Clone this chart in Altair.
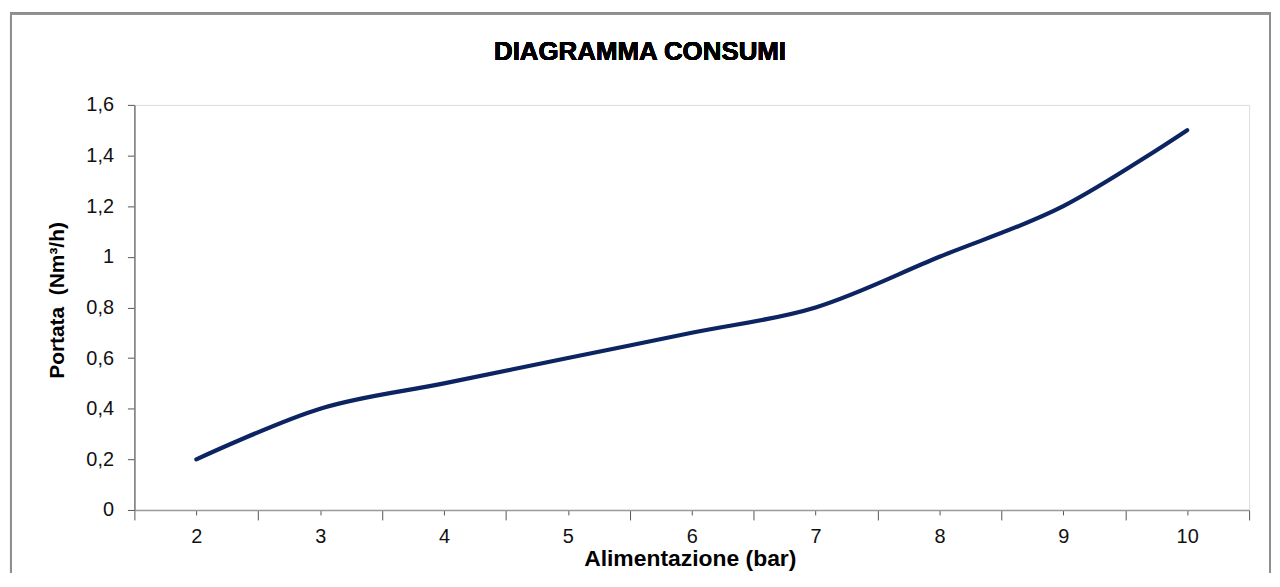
import altair as alt
import pandas as pd

# Data
pressure_bar = [2, 3, 4, 5, 6, 7, 8, 9, 10]
flow_nm3h = [0.2, 0.4, 0.5, 0.6, 0.7, 0.8, 1.0, 1.2, 1.5]

x_tick_values = [1.5, 2, 2.5, 3, 3.5, 4, 4.5, 5, 5.5, 6, 6.5, 7, 7.5, 8, 8.5, 9, 9.5, 10, 10.5]
y_tick_values = [0, 0.2, 0.4, 0.6, 0.8, 1.0, 1.2, 1.4, 1.6]

df = pd.DataFrame({"Alimentazione": pressure_bar, "Portata": flow_nm3h})

FONT = "Liberation Sans"
W, H = 1120, 407

x_scale = alt.Scale(domain=[1.5, 10.5], nice=False, zero=False)
y_scale = alt.Scale(domain=[0, 1.6], nice=False)

line = alt.Chart(df).mark_line(
    color="#0c2462", strokeWidth=4.2, interpolate="cardinal", strokeCap="round"
).encode(
    x=alt.X(
        "Alimentazione:Q",
        scale=x_scale,
        axis=alt.Axis(
            title="Alimentazione (bar)",
            values=x_tick_values,
            labelExpr="datum.value % 1 == 0 ? format(datum.value, 'd') : ''",
            tickSize={"condition": {"test": "datum.value % 1 == 0", "value": 5}, "value": 10},
            tickColor="#555555",
            domainColor="#9a9a9a",
            domainWidth=1.5,
            labelFont=FONT,
            labelFontSize=20,
            labelColor="#111111",
            labelPadding=12,
            labelFlush=False,
            labelOverlap=False,
            grid=False,
            titleFont=FONT,
            titleFontSize=23,
            titleFontWeight="bold",
            titleColor="#000000",
            titleX=558,
            titleY=56,
            titleBaseline="alphabetic",
            titleAlign="center",
        ),
    ),
    y=alt.Y(
        "Portata:Q",
        scale=y_scale,
        axis=alt.Axis(
            title="Portata \u00a0(Nm³/h)",
            values=y_tick_values,
            labelExpr="replace(datum.label, '.', ',')",
            format=".1~f",
            tickSize=7,
            tickColor="#555555",
            domainColor="#777777",
            domainWidth=1.5,
            labelFont=FONT,
            labelFontSize=20,
            labelColor="#111111",
            labelPadding=14,
            labelFlush=False,
            grid=False,
            titleFont=FONT,
            titleFontSize=21,
            titleFontWeight="bold",
            titleColor="#000000",
            titleX=-77,
            titleY=196,
            titleAngle=-90,
            titleBaseline="middle",
            titleAlign="center",
        ),
    ),
)

border = alt.Chart(df).mark_rect(
    fill=None, stroke="#8f8f8f", strokeWidth=2
).encode(
    x=alt.value(-124), x2=alt.value(1141), y=alt.value(-92), y2=alt.value(520)
)

title = alt.Chart(df).mark_text(
    text="DIAGRAMMA CONSUMI", font=FONT, fontSize=26, fontWeight="bold",
    color="#000000", align="center", baseline="alphabetic"
).encode(x=alt.value(508), y=alt.value(-45))

chart = alt.layer(border, line, title).properties(
    width=W,
    height=H,
    autosize=alt.AutoSizeParams(type="none"),
    padding={"left": 127, "top": 96, "right": 23, "bottom": 62},
).configure_view(stroke=None).configure(background="white")

chart.save("out.html", embed_options={"renderer": "svg", "actions": False})
